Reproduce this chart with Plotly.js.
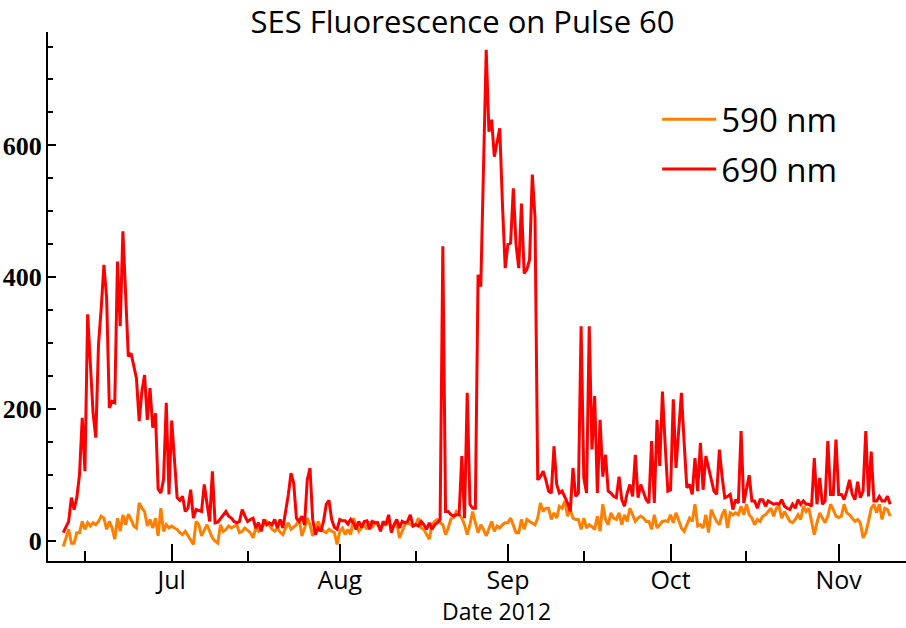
<!DOCTYPE html>
<html>
<head>
<meta charset="utf-8">
<script src="https://cdn.plot.ly/plotly-3.0.1.min.js"></script>
<style>
  html, body { margin: 0; padding: 0; background: #fff; }
  #plot { width: 906px; height: 628px; }
</style>
</head>
<body>
<div id="plot"></div>
<script>
// samples every 12 hours starting here
const startTime = '2012-06-11T00:00:00';
const stepHours = 12;

// 690 nm channel
const red690 = [
  13, 22, 30, 66, 48, 66, 101, 187, 106, 344,
  263, 194, 157, 298, 353, 419, 369, 202, 212, 210,
  424, 326, 470, 364, 280, 285, 268, 247, 182, 227,
  252, 184, 232, 172, 194, 79, 73, 94, 210, 71,
  183, 126, 66, 62, 68, 45, 50, 78, 35, 48,
  47, 45, 86, 56, 30, 106, 28, 29, 35, 40,
  45, 38, 35, 30, 28, 30, 48, 38, 30, 33,
  35, 20, 28, 15, 33, 25, 28, 25, 33, 20,
  33, 20, 43, 70, 103, 88, 35, 30, 38, 25,
  93, 111, 33, 10, 20, 15, 30, 56, 62, 33,
  21, 18, 33, 31, 31, 26, 33, 28, 18, 30,
  21, 30, 31, 18, 30, 28, 28, 15, 30, 25,
  40, 13, 25, 33, 20, 30, 28, 30, 40, 23,
  25, 23, 30, 25, 18, 28, 18, 25, 28, 33,
  447, 45, 45, 40, 38, 40, 40, 129, 35, 225,
  56, 50, 50, 404, 386, 560, 745, 621, 639, 583,
  606, 626, 510, 414, 450, 452, 535, 450, 414, 512,
  406, 412, 427, 556, 490, 93, 98, 106, 93, 76,
  73, 144, 86, 73, 76, 68, 58, 45, 111, 68,
  73, 326, 96, 73, 326, 139, 220, 73, 184, 98,
  131, 76, 73, 68, 66, 98, 63, 53, 73, 86,
  68, 131, 66, 86, 73, 63, 58, 152, 58, 184,
  114, 227, 146, 76, 78, 215, 111, 170, 225, 150,
  81, 86, 71, 126, 76, 149, 78, 129, 110, 96,
  76, 71, 139, 98, 66, 68, 71, 48, 63, 58,
  167, 58, 78, 100, 61, 61, 50, 63, 63, 53,
  61, 58, 56, 57, 56, 63, 53, 50, 48, 56,
  50, 63, 56, 61, 56, 56, 53, 126, 56, 96,
  56, 61, 152, 71, 71, 154, 71, 71, 63, 76,
  93, 71, 63, 90, 66, 76, 167, 68, 136, 61,
  61, 68, 61, 61, 68, 56
];

// 590 nm channel
const orange590 = [
  -8, 5, 18, -3, -3, 13, 13, 30, 18, 28,
  23, 28, 25, 30, 38, 35, 18, 30, 20, 3,
  35, 15, 40, 25, 41, 33, 23, 20, 58, 50,
  45, 23, 33, 20, 35, 8, 50, 15, 25, 20,
  23, 20, 18, 13, 10, 15, 8, 0, -5, 30,
  25, 8, 18, 25, 15, 5, 0, -3, 25, 15,
  18, 23, 20, 22, 25, 13, 15, 20, 16, 13,
  5, 20, 15, 20, 26, 30, 25, 18, 15, 20,
  14, 10, 20, 28, 18, 22, 25, 35, 8, 20,
  35, 25, 8, 15, 30, 20, 15, 13, 18, 15,
  13, -5, 15, 20, 10, 18, 10, 35, 25, 15,
  20, 25, 18, 30, 20, 30, 24, 20, 25, 25,
  33, 20, 24, 28, 5, 15, 25, 28, 25, 23,
  25, 35, 20, 18, 10, 3, 25, 30, 33, 28,
  25, 10, 20, 34, 36, 45, 40, 35, 25, 10,
  25, 45, 28, 13, 25, 18, 8, 20, 30, 15,
  23, 20, 25, 28, 28, 35, 25, 13, 13, 33,
  18, 33, 30, 28, 25, 35, 58, 45, 50, 50,
  33, 43, 35, 53, 50, 61, 38, 48, 35, 33,
  33, 18, 35, 20, 25, 22, 18, 38, 15, 56,
  33, 25, 43, 35, 33, 43, 25, 40, 30, 50,
  40, 30, 35, 38, 35, 30, 30, 18, 40, 20,
  25, 30, 31, 30, 40, 28, 43, 30, 20, 15,
  25, 35, 30, 56, 23, 25, 20, 40, 13, 48,
  38, 30, 25, 40, 48, 20, 43, 40, 43, 40,
  53, 40, 56, 40, 35, 25, 33, 30, 38, 40,
  45, 50, 38, 50, 53, 35, 45, 38, 30, 28,
  33, 40, 33, 53, 45, 50, 30, 10, 28, 43,
  35, 28, 38, 56, 48, 38, 36, 38, 56, 43,
  40, 35, 30, 33, 28, 5, 13, 30, 50, 56,
  43, 56, 33, 50, 48, 38
];

const monthTicks = ['2012-07-01', '2012-08-01', '2012-09-01', '2012-10-01', '2012-11-01'];
const seriesNames = ['590 nm', '690 nm'];

// build the time stamps
const t0 = new Date(startTime + 'Z').getTime();
const times = red690.map((_, i) => {
  const d = new Date(t0 + i * stepHours * 3600 * 1000);
  return d.toISOString().slice(0, 19).replace('T', ' ');
});

const sansFont = 'Open Sans, Noto Sans, sans-serif';

const traces = [
  {
    x: times,
    y: orange590,
    type: 'scatter',
    mode: 'lines',
    name: seriesNames[0],
    legendgroup: 'a',
    line: { color: '#ff8000', width: 3 }
  },
  {
    x: times,
    y: red690,
    type: 'scatter',
    mode: 'lines',
    name: seriesNames[1],
    legendgroup: 'b',
    line: { color: '#ff0000', width: 3 }
  }
];

const layout = {
  width: 906,
  height: 628,
  margin: { l: 48, r: 0, t: 32, b: 67 },
  paper_bgcolor: '#fff',
  plot_bgcolor: '#fff',
  title: {
    text: 'SES Fluorescence on Pulse 60',
    font: { family: sansFont, size: 31, color: '#000' },
    xref: 'container', x: 0.5105,
    yref: 'container', y: 0.964, yanchor: 'middle'
  },
  xaxis: {
    type: 'date',
    range: ['2012-06-08 04:30', '2012-11-13 10:00'],
    tickvals: monthTicks,
    tickformat: '%b',
    ticks: 'inside',
    ticklen: 17,
    tickwidth: 2,
    tickcolor: '#000',
    showline: true,
    linewidth: 2,
    linecolor: '#000',
    showgrid: false,
    zeroline: false,
    ticklabelstandoff: -4,
    tickfont: { family: sansFont, size: 25, color: '#000' },
    minor: {
      ticks: 'inside',
      ticklen: 10,
      tickwidth: 2,
      tickcolor: '#000',
      tick0: '2012-06-15',
      dtick: 'M1',
      showgrid: false
    }
  },
  yaxis: {
    range: [-30, 772],
    tick0: 0,
    dtick: 200,
    ticks: 'inside',
    ticklen: 8,
    tickwidth: 2,
    tickcolor: '#000',
    showline: true,
    linewidth: 2,
    linecolor: '#000',
    showgrid: false,
    zeroline: false,
    ticklabelstandoff: -1,
    tickfont: { family: 'Liberation Serif, serif', size: 26, color: '#000', weight: 'bold' },
    minor: {
      ticks: 'inside',
      ticklen: 5,
      tickwidth: 2,
      tickcolor: '#000',
      dtick: 50,
      showgrid: false
    }
  },
  showlegend: true,
  legend: {
    x: 0.71, y: 0.888,
    xanchor: 'left', yanchor: 'top',
    bgcolor: 'rgba(0,0,0,0)',
    font: { family: sansFont, size: 33, color: '#000' },
    itemwidth: 54,
    tracegroupgap: 4
  },
  annotations: [{
    text: 'Date 2012',
    xref: 'paper', yref: 'paper',
    x: 0.523, y: -0.094,
    xanchor: 'center', yanchor: 'middle',
    showarrow: false,
    font: { family: sansFont, size: 23, color: '#000' }
  }]
};

Plotly.newPlot('plot', traces, layout, { displayModeBar: false, staticPlot: true });
</script>
</body>
</html>
